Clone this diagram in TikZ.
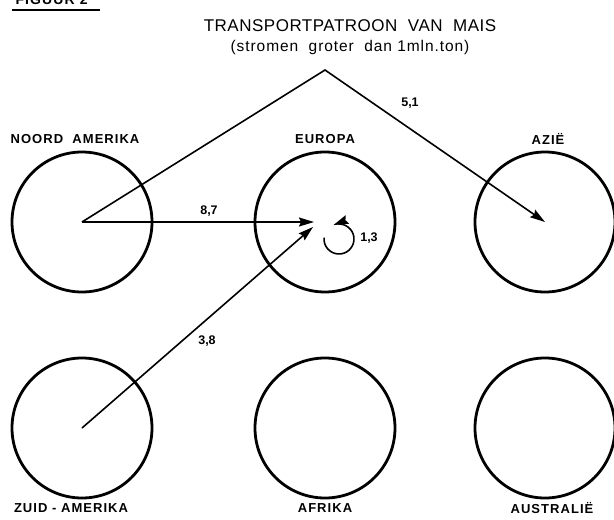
\documentclass[tikz,border=0pt]{standalone}
\usepackage{fontspec}
\setmainfont{Liberation Sans}
\usetikzlibrary{arrows.meta}
\tikzset{
  region/.style={circle, draw, line width=2.8pt, minimum size=140pt, inner sep=0pt},
  lbl/.style={font=\bfseries\fontsize{13}{13}\selectfont\addfontfeature{LetterSpace=8}},
  num/.style={font=\bfseries\fontsize{12.5}{12.5}\selectfont},
  flow/.style={line width=1.6pt, -{Stealth[length=15pt,width=9pt,inset=2pt]}},
}
\begin{document}
\begin{tikzpicture}[x=1pt,y=-1pt]
\useasboundingbox (0,0) rectangle (614,520);
% header
\node[anchor=base west, font=\bfseries\fontsize{14}{14}\selectfont\addfontfeature{LetterSpace=8}] (fig) at (12,4) {FIGUUR 2};
\draw[line width=1.6pt] (12,10) -- (100,10);
\node[font=\fontsize{17}{17}\selectfont\addfontfeature{LetterSpace=3}] (title) at (350,26) {TRANSPORTPATROON\ \ VAN\ \ MAIS};
\node[font=\fontsize{15.5}{15.5}\selectfont\addfontfeature{LetterSpace=6}] (sub) at (350,47) {(stromen\ \ groter\ \ dan 1mln.ton)};
% regions
\node[region] (na) at (82,222) {};
\node[region] (eu) at (325,222) {};
\node[region] (az) at (545,222) {};
\node[region] (sa) at (82,428) {};
\node[region] (af) at (325,428) {};
\node[region] (au) at (545,428) {};
% labels
\node[lbl] (lna) at (75,139) {NOORD\ \ AMERIKA};
\node[lbl] (leu) at (325,139) {EUROPA};
\node[lbl] (laz) at (548,139) {AZI\"E};
\node[lbl] (lsa) at (71,508) {ZUID - AMERIKA};
\node[lbl] (laf) at (325,508) {AFRIKA};
\node[lbl] (lau) at (552,508) {AUSTRALI\"E};
% flows
\coordinate (apex) at (325,70);
\coordinate (t87) at (314,222);
\coordinate (t38) at (313,227);
\draw[flow] (na.center) -- (apex) -- (az.center);
\draw[flow] (na.center) -- (t87);
\draw[flow] (sa.center) -- (t38);
\draw[flow] (339,239) ++(185:15) arc[start angle=185, end angle=-112, radius=15];
\node[num] (n51) at (410,103) {5,1};
\node[num] (n87) at (209,211) {8,7};
\node[num] (n38) at (207,341) {3,8};
\node[num] (n13) at (369,238) {1,3};
\end{tikzpicture}
\end{document}
